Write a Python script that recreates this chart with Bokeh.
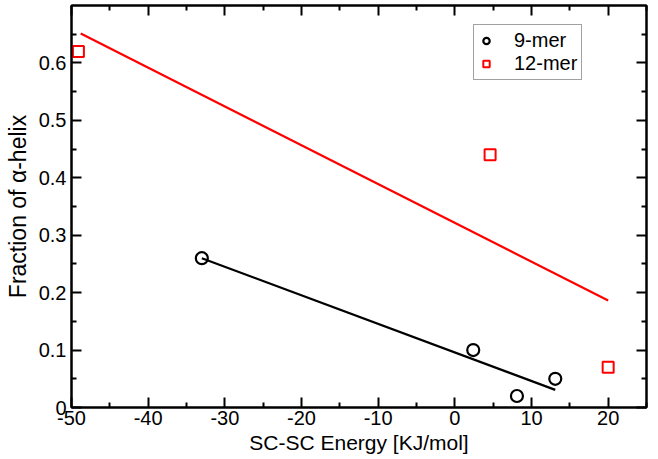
import numpy as np
from bokeh.plotting import figure
from bokeh.models import FixedTicker, LinearAxis, Range1d, Legend, LegendItem
from bokeh.embed import file_html
from bokeh.resources import INLINE

# 9-mer data
x9 = [-33.0, 2.4, 8.1, 13.1]
y9 = [0.26, 0.10, 0.02, 0.05]
# 12-mer data
x12 = [-49.1, 4.6, 20.0]
y12 = [0.62, 0.44, 0.07]

# fit-line x extents
fit9_x = [-33.0, 13.1]
fit12_x = [-48.8, 20.0]

x_ticks = [-50, -40, -30, -20, -10, 0, 10, 20]
x_minor = [-45, -35, -25, -15, -5, 5, 15, 25]
y_ticks = [0, 0.1, 0.2, 0.3, 0.4, 0.5, 0.6]
y_minor = [0.05, 0.15, 0.25, 0.35, 0.45, 0.55, 0.65]

x_title = "SC-SC Energy [KJ/mol]"
y_title = "Fraction of α-helix"

FONT = "Liberation Sans"

p = figure(width=652, height=458, output_backend="svg", toolbar_location=None,
           x_range=Range1d(-50, 25), y_range=Range1d(0, 0.7),
           min_border_left=71, min_border_right=6, min_border_top=5, min_border_bottom=51)
p.background_fill_color = "white"
p.border_fill_color = "white"
p.xgrid.visible = False
p.ygrid.visible = False
p.outline_line_color = "black"
p.outline_line_width = 2

def style_axis(ax, ticks, minor, show_labels=True):
    ax.ticker = FixedTicker(ticks=ticks, minor_ticks=minor)
    ax.axis_line_width = 2
    ax.axis_line_color = "black"
    ax.major_tick_in = 10
    ax.major_tick_out = 0
    ax.minor_tick_in = 5
    ax.minor_tick_out = 0
    ax.major_tick_line_width = 2
    ax.minor_tick_line_width = 2
    ax.major_label_text_font = FONT
    ax.major_label_text_font_size = "20px"
    ax.major_label_text_color = "black"
    ax.axis_label_text_font = FONT
    ax.axis_label_text_font_size = "21px"
    ax.axis_label_text_font_style = "normal"
    ax.axis_label_text_color = "black"
    if not show_labels:
        ax.major_label_overrides = {t: "" for t in ticks}
        ax.major_label_standoff = 0

style_axis(p.xaxis[0], x_ticks, x_minor)
style_axis(p.yaxis[0], y_ticks, y_minor)
p.xaxis[0].axis_label = x_title
p.yaxis[0].axis_label = y_title
p.yaxis[0].axis_label_text_font_size = "23px"
p.xaxis[0].major_label_overrides = {t: str(t) for t in x_ticks}
p.xaxis[0].major_label_standoff = 3
p.xaxis[0].axis_label_standoff = 3
p.yaxis[0].major_label_standoff = 5
p.yaxis[0].axis_label_standoff = 5
p.yaxis[0].major_label_overrides = {0: "0"}

top = LinearAxis()
style_axis(top, x_ticks, x_minor, show_labels=False)
p.add_layout(top, "above")
right = LinearAxis()
style_axis(right, y_ticks, y_minor, show_labels=False)
p.add_layout(right, "right")

# fit lines computed from the data
c9 = np.polyfit(x9, y9, 1)
c12 = np.polyfit(x12, y12, 1)
p.line(fit12_x, list(np.polyval(c12, fit12_x)), line_color="#ff0000", line_width=2.2)
p.line(fit9_x, list(np.polyval(c9, fit9_x)), line_color="black", line_width=2.2)

r9 = p.scatter(x9, y9, marker="circle", size=12, fill_color=None,
               line_color="black", line_width=2.2)
r12 = p.scatter(x12, y12, marker="square", size=11, fill_color=None,
                line_color="#ff0000", line_width=2)

legend = Legend(items=[LegendItem(label="9-mer", renderers=[r9]),
                       LegendItem(label="12-mer", renderers=[r12])],
                location=(402, 327))
legend.label_text_font = FONT
legend.label_text_font_size = "20px"
legend.label_text_color = "black"
legend.border_line_color = "#444444"
legend.border_line_width = 1
legend.padding = 4
legend.margin = 0
legend.spacing = 0
legend.label_height = 19
legend.glyph_height = 19
legend.glyph_width = 16
legend.label_standoff = 20
legend.background_fill_alpha = 1
p.add_layout(legend)

open("out.html", "w").write(file_html(p, INLINE))
